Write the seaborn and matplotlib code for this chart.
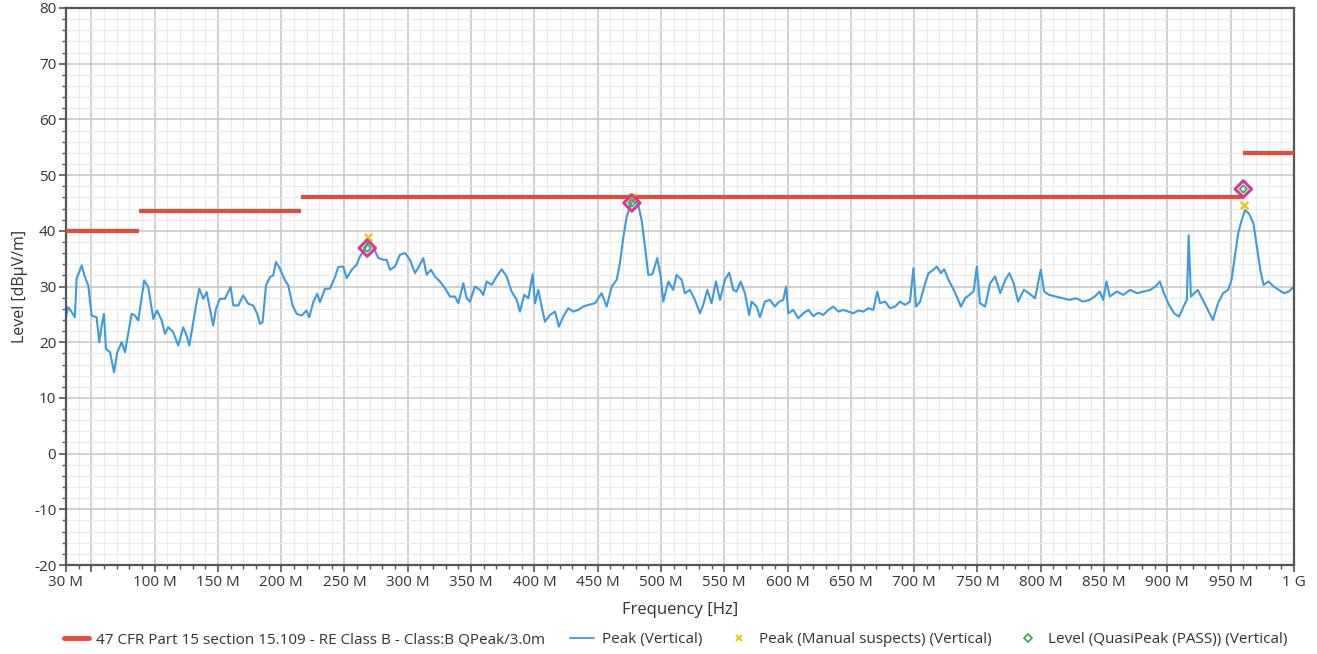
import numpy as np
import pandas as pd
import matplotlib
matplotlib.use('Agg')
import matplotlib.pyplot as plt
import seaborn as sns
from matplotlib.ticker import MultipleLocator, FixedLocator
from matplotlib.lines import Line2D

# Peak trace (vertical)
freq_mhz = [
    30, 31.8, 34.5, 37, 38.4, 42.4, 45, 47.6, 50.3, 54.2, 56.3, 58.2, 60, 61.6, 64.8, 68, 70.5, 74, 76.6, 78.4,
    81.9, 84.5, 87.1, 91.8, 95, 99, 102, 105.6, 108.2, 110.8, 114.7, 118.7, 122.6, 125.3, 127.4, 130.5, 133.2,
    135.3, 138.5, 141.1, 143.7, 146.3, 148.5, 151.6, 155.6, 160, 162.2, 166.1, 170, 174, 177.9, 181.1, 183.2,
    185.3, 188, 191.1, 193.7, 195.9, 199, 203, 205.6, 209, 212.2, 216.2, 220, 222.2, 225.3, 228.5, 230.6,
    234.6, 238.5, 242.5, 245.1, 249, 251.7, 255.7, 259.6, 262.2, 264.8, 268.8, 272.8, 276.7, 280.6, 283.3,
    285.9, 289.9, 293.8, 297.8, 301.7, 305.7, 308.8, 312.2, 314.9, 318.3, 321.5, 325.4, 329.4, 333.3, 337.3,
    339.9, 343.9, 346.5, 349.1, 353, 357, 359.6, 362.3, 366.3, 370.2, 374.1, 378.1, 382, 386, 388.6, 392,
    395.2, 398.6, 400.5, 403.1, 405.7, 408.4, 412.3, 416.3, 419.4, 422.8, 426.8, 430.7, 434.7, 438.6, 442.6,
    447.9, 453.1, 457.1, 461.1, 465, 467.6, 470.3, 472.9, 476.3, 479.5, 482.1, 484.7, 487.4, 490, 493.2,
    497.1, 499.8, 501.8, 505.8, 509.7, 512.3, 516.3, 518.9, 522.9, 526.8, 530.8, 533.4, 536.6, 540, 543.4,
    546.6, 550.5, 553.9, 557.1, 559.7, 562.9, 566.3, 569.7, 571.6, 575.5, 578.2, 582.1, 586.1, 590, 593.4,
    596.6, 598.8, 600.6, 604.5, 608.5, 612.4, 616.4, 620.3, 624.3, 628.2, 632.2, 636.1, 640.1, 644, 648,
    651.9, 655.9, 659.8, 663.8, 667.7, 670.9, 673, 677, 680.9, 684.9, 688.8, 692.8, 696.7, 699.4, 701.5,
    704.7, 707.9, 711.3, 715.2, 717.9, 721.1, 723.7, 727.1, 730.6, 733.7, 736.9, 740.3, 743.7, 746.9, 749.5,
    752, 756, 760, 764, 768, 772, 775.2, 778.6, 782.1, 786.6, 790.6, 795.5, 800, 802.7, 806.6, 812, 817.3,
    822.6, 827.9, 833.3, 838.6, 842.6, 846.6, 849.3, 851.9, 854.6, 860, 865.3, 870.6, 876, 881.3, 886.6,
    890.6, 894.1, 897.3, 901.3, 905.3, 909.3, 912.8, 915.4, 916.8, 918.6, 924, 928, 932, 936, 940, 944, 948,
    950.7, 953.3, 956, 958.7, 961.3, 964.5, 968, 970.7, 973.4, 976, 980, 984, 988, 992, 996, 1000,
]
level_dbuv = [
    24.5, 26.3, 25.4, 24.5, 31.4, 33.8, 31.7, 30.2, 24.8, 24.5, 20.0, 23.0, 25.1, 18.8, 18.2, 14.6, 18.2, 20.0, 18.2, 20.6,
    25.1, 24.8, 23.9, 31.1, 29.9, 24.2, 25.7, 23.9, 21.5, 22.7, 21.8, 19.4, 22.7, 21.2, 19.4, 23.6, 27.2,
    29.6, 27.8, 29.0, 26.0, 23.0, 26.0, 27.8, 27.8, 29.9, 26.6, 26.6, 28.4, 26.9, 26.6, 25.1, 23.3,
    23.6, 30.2, 31.7, 32.0, 34.4, 33.2, 31.1, 30.2, 26.6, 25.1, 24.8, 25.7, 24.5, 27.2, 28.7, 27.2,
    29.6, 29.6, 31.7, 33.5, 33.6, 31.5, 33.0, 33.9, 35.4, 36.2, 38.0, 37.1, 35.1, 34.8, 34.8,
    33.0, 33.6, 35.7, 36.0, 34.8, 32.4, 33.6, 35.1, 32.1, 33.0, 31.8, 30.9, 29.7, 28.2, 28.2,
    27.0, 30.6, 27.9, 27.3, 30.0, 29.4, 28.5, 30.9, 30.3, 31.8, 33.1, 31.8, 29.1, 27.6, 25.5, 28.5,
    27.9, 32.2, 27.0, 29.4, 26.4, 23.7, 24.9, 25.5, 22.8, 24.6, 26.1, 25.5, 25.8, 26.4, 26.7,
    27.0, 28.8, 26.4, 30.0, 31.2, 34.2, 38.9, 42.5, 44.9, 45.8, 44.6, 41.9, 37.1, 32.1, 32.2,
    35.1, 31.8, 27.3, 30.9, 29.4, 32.1, 31.2, 28.8, 29.4, 27.6, 25.2, 26.7, 29.4, 27.0, 30.9,
    27.6, 31.2, 32.5, 29.4, 29.1, 30.9, 28.8, 24.9, 27.3, 26.4, 24.5, 27.3, 27.6, 26.4, 27.3,
    27.6, 30.0, 25.2, 25.8, 24.3, 25.2, 25.8, 24.7, 25.3, 24.9, 25.8, 26.4, 25.5, 25.8, 25.5,
    25.2, 25.7, 25.5, 26.1, 25.8, 29.1, 27.0, 27.3, 26.1, 26.4, 27.3, 26.7, 27.3, 33.3, 26.4,
    27.3, 30.0, 32.4, 33.0, 33.6, 32.4, 33.1, 31.2, 29.7, 28.2, 26.4, 27.9, 28.5, 29.1, 33.6,
    27.0, 26.4, 30.6, 31.8, 28.8, 31.2, 32.4, 30.6, 27.3, 29.4, 28.8, 27.9, 33.0, 29.1, 28.5, 28.2, 27.9,
    27.6, 27.9, 27.3, 27.6, 28.2, 29.1, 27.6, 30.9, 28.2, 29.1, 28.5, 29.4, 28.8, 29.1, 29.4,
    30.0, 30.9, 28.8, 26.7, 25.2, 24.6, 26.4, 27.6, 39.2, 28.2, 29.4, 27.6, 25.8, 24.0, 27.0, 28.8, 29.4,
    31.2, 35.4, 39.6, 41.9, 43.7, 43.1, 41.3, 37.1, 33.0, 30.3, 30.9, 30.0, 29.4, 28.8, 29.1, 30.0,
]

# Limit line: 47 CFR Part 15 section 15.109 class B
limit_start = [30, 88, 216, 960]
limit_stop = [88, 216, 960, 1000]
limit_level = [40, 43.5, 46, 54]

# Suspects and final measurements
suspect_freq = [268.5, 477.5, 960.5]
suspect_peak = [38.9, 46.1, 44.6]
qp_freq = [268.0, 477.0, 960.0]
qp_level = [36.9, 45.0, 47.5]

sns.set_style("white")
plt.rcParams['font.family'] = ['Open Sans', 'DejaVu Sans']
plt.rcParams['axes.unicode_minus'] = False

fig = plt.figure(figsize=(13.17, 6.54), dpi=100)
ax = fig.add_axes([0.0501, 0.136, 0.9324, 0.8518])

trace = pd.DataFrame({'f': freq_mhz, 'level': level_dbuv})
sns.lineplot(data=trace, x='f', y='level', ax=ax, color='#3d9ae0', lw=1.5, estimator=None, sort=False)

ax.hlines(limit_level, limit_start, limit_stop, colors='#e8493a', lw=3, zorder=3)

sns.scatterplot(x=suspect_freq, y=suspect_peak, ax=ax, marker='x', color='#f2c41c', s=30, linewidth=1.8, zorder=5)
ax.scatter(qp_freq, qp_level, marker='D', s=70, facecolors='none', edgecolors='#d63a92', linewidths=2.2, zorder=6)
ax.scatter(qp_freq, qp_level, marker='D', s=14, facecolors='none', edgecolors='#2fa84f', linewidths=1.2, zorder=7)

ax.set_xlim(30, 1000)
ax.set_ylim(-20, 80)

major_x = [30] + list(range(50, 1001, 50))
xlabels = []
for v in major_x:
    if v == 50:
        xlabels.append('')
    elif v == 1000:
        xlabels.append('1 G')
    else:
        xlabels.append(f'{v} M')
ax.xaxis.set_major_locator(FixedLocator(major_x))
ax.set_xticklabels(xlabels)
ax.xaxis.set_minor_locator(MultipleLocator(10))
ax.yaxis.set_major_locator(MultipleLocator(10))
ax.yaxis.set_minor_locator(MultipleLocator(2))

ax.grid(which='major', color='#cacaca', lw=1.2)
ax.grid(which='minor', color='#ebebeb', lw=0.8)
ax.set_axisbelow(True)

for s in ax.spines.values():
    s.set_color('#555555')
    s.set_linewidth(1.6)
ax.tick_params(which='major', direction='out', length=5, width=1.2, color='#555555',
               labelsize=11, labelcolor='#333333', bottom=True, left=True, pad=2)
ax.tick_params(which='minor', direction='out', length=3, width=1, color='#555555', bottom=True, left=True)

ax.set_xlabel('Frequency [Hz]', fontsize=12, color='#333333', labelpad=9)
ax.set_ylabel('Level [dBµV/m]', fontsize=11.5, color='#333333', labelpad=4)

handles = [
    Line2D([], [], color='#e8493a', lw=3.5),
    Line2D([], [], color='#3d9ae0', lw=1.3),
    Line2D([], [], color='#f2c41c', marker='x', ls='none', ms=5, mew=1.5),
    Line2D([], [], color='#2fa84f', marker='D', ls='none', ms=4, mfc='none', mew=1.2),
]
labels = [
    '47 CFR Part 15 section 15.109 - RE Class B - Class:B QPeak/3.0m',
    'Peak (Vertical)',
    'Peak (Manual suspects) (Vertical)',
    'Level (QuasiPeak (PASS)) (Vertical)',
]
fig.legend(handles, labels, loc='center', bbox_to_anchor=(0.513, 0.022), ncol=4, frameon=False,
           fontsize=11, handlelength=1.6, columnspacing=1.6, handletextpad=0.5,
           labelcolor='#333333')

fig.savefig('out.png', dpi=100)
